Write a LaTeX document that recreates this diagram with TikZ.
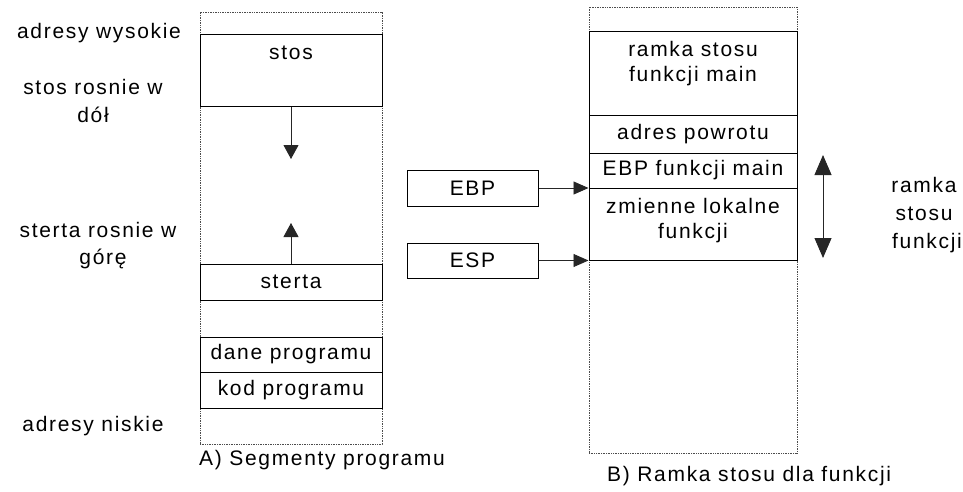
\documentclass[tikz,border=0pt]{standalone}
\usepackage{fontspec}
\setmainfont{Liberation Sans}[LetterSpace=8]
\usetikzlibrary{arrows.meta}

\begin{document}
\begin{tikzpicture}[x=1pt,y=-1pt,
  every node/.style={font=\fontsize{21}{26}\selectfont, inner sep=0pt},
  outerframe/.style={draw=black!70, line width=0.8pt, dash pattern=on 1pt off 0.7pt},
  seg/.style={draw=black, line width=1pt},
  segA/.style={seg, minimum width=182pt},
  segB/.style={seg, minimum width=208pt},
  regbox/.style={seg, minimum width=131pt},
  txt/.style={anchor=base},
  ptrarrow/.style={-{Triangle[length=15pt,width=13pt]}, line width=0.9pt, draw=black!85},
  growarrow/.style={-{Triangle[length=14pt,width=15pt]}, line width=0.9pt, draw=black!85},
  spanarrow/.style={{Triangle[length=20pt,width=17pt]}-{Triangle[length=20pt,width=17pt]}, line width=0.9pt, draw=black!85}
]
\useasboundingbox (0,0) rectangle (963,492);

% memory layout of a program
\node[outerframe, minimum width=182pt, minimum height=432pt] (memA) at (291,228) {};
\node[segA, minimum height=72pt] (stos) at (291,71) {};
\node[txt] (stoslbl) at (291,60) {stos};
\node[segA, minimum height=36pt] (sterta) at (291,282) {sterta};
\node[segA, minimum height=35pt] (dane) at (291,354.5) {dane programu};
\node[segA, minimum height=36pt] (kod) at (291,390) {kod programu};

\coordinate (stosend) at (291,159);
\coordinate (stertaend) at (291,223);
\draw[growarrow] (stos.south) -- (stosend);
\draw[growarrow] (sterta.north) -- (stertaend);

% left-hand captions
\node[txt] (hi) at (99,39) {adresy wysokie};
\node[txt] (sdown1) at (93,95) {stos rosnie w};
\node[txt] (sdown2) at (93,123) {dół};
\node[txt] (hup1) at (98,237) {sterta rosnie w};
\node[txt] (hup2) at (103,264) {górę};
\node[txt] (lo) at (93,431) {adresy niskie};
\node[anchor=base west] (capA) at (199,465) {A) Segmenty programu};

% stack frame of a function
\node[outerframe, minimum width=208pt, minimum height=446pt] (memB) at (693,230) {};
\node[segB, minimum height=84pt] (mainframe) at (693,74) {};
\node[txt] (mf1) at (693,57) {ramka stosu};
\node[txt] (mf2) at (693,82) {funkcji main};
\node[segB, minimum height=37pt] (retaddr) at (693,134.5) {adres powrotu};
\node[segB, minimum height=35pt] (savedebp) at (693,170.5) {EBP funkcji main};
\node[segB, minimum height=72pt] (locals) at (693,224) {};
\node[txt] (lv1) at (693,213) {zmienne lokalne};
\node[txt] (lv2) at (693,238) {funkcji};

% registers
\node[regbox, minimum height=36pt] (ebp) at (472.5,188) {EBP};
\node[regbox, minimum height=35pt] (esp) at (472.5,260.5) {ESP};
\draw[ptrarrow] (ebp.east) -- (ebp.east -| locals.west);
\draw[ptrarrow] (esp.east) -- (esp.east -| locals.west);

% extent of the frame
\coordinate (spantop) at (823,155);
\coordinate (spanbot) at (823,258);
\draw[spanarrow] (spantop) -- (spanbot);
\node[txt] (fr1) at (924,192) {ramka};
\node[txt] (fr2) at (924,220) {stosu};
\node[txt] (fr3) at (927,248) {funkcji};

\node[anchor=base west] (capB) at (607,481) {B) Ramka stosu dla funkcji};
\end{tikzpicture}
\end{document}
